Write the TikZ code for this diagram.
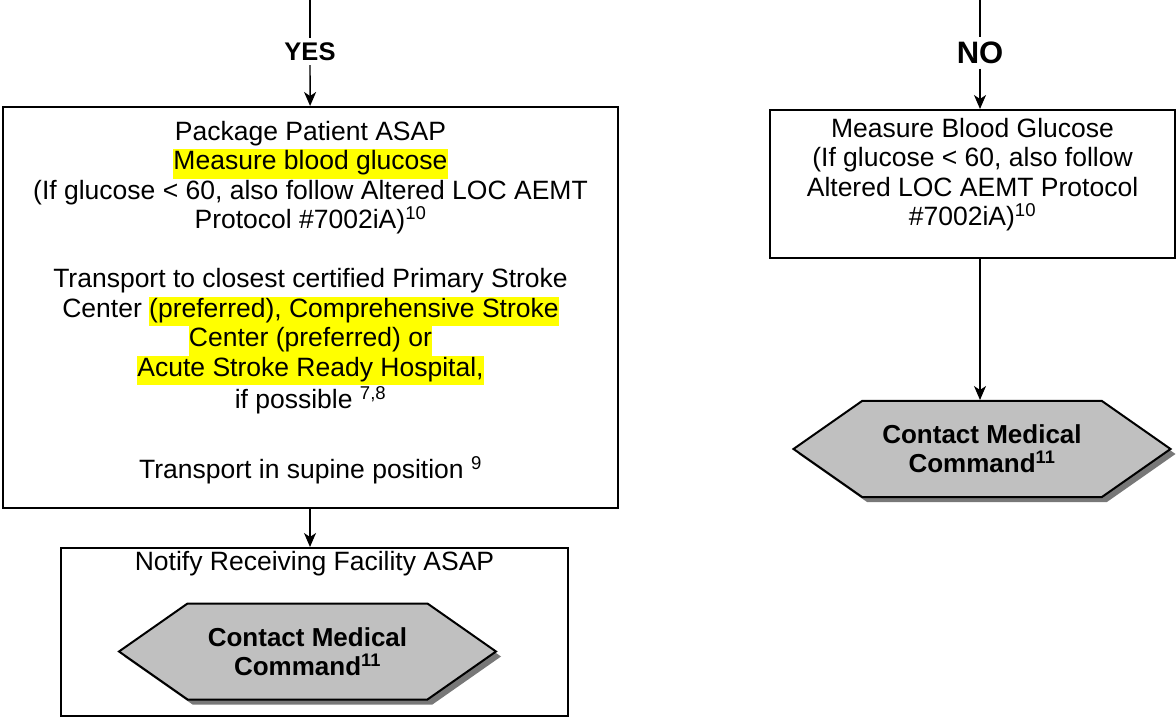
\documentclass[tikz,border=0pt]{standalone}
\usepackage{fontspec}
\setmainfont{Liberation Sans}
\usepackage{tikz}
\usetikzlibrary{arrows.meta,positioning,shapes.symbols,shadows}
\definecolor{col1}{RGB}{192,192,192}
\definecolor{col2}{RGB}{255,255,0}
\definecolor{col3}{RGB}{120,120,120}
\newcommand{\hlt}[1]{{\setlength{\fboxsep}{0pt}\colorbox{col2}{\strut #1}}}
\tikzstyle{proc}=[draw, line width=2pt, align=center, font=\fontsize{26.5pt}{29.5pt}\selectfont]
\tikzstyle{cmd}=[draw, line width=2pt, fill=col1, signal, signal to=east and west, signal pointer angle=70, minimum width=377pt, minimum height=96pt, align=center, font=\fontsize{26pt}{29pt}\selectfont\bfseries, drop shadow={shadow xshift=5pt, shadow yshift=-5pt, fill=col3, opacity=1}]
\tikzstyle{ans}=[inner sep=4pt]

\begin{document}
\begin{tikzpicture}[x=1pt,y=1pt,>={Stealth[length=14pt,width=12pt,inset=4pt]},line width=1.4pt]
		    \useasboundingbox (0,0) rectangle (1176,-719);
		    \coordinate (in1) at (310,0);
		    \coordinate (in2) at (980,0);
		    \node [ans, font=\fontsize{25.5pt}{28pt}\selectfont\bfseries] (yes) at (310,-51.5) {YES};
		    \node [ans, font=\fontsize{31pt}{34pt}\selectfont\bfseries] (no) at (980,-53) {NO};
		    \node [proc, minimum width=615pt, minimum height=401pt] (pkg) at (310.5,-307.5) {Package Patient ASAP\\\hlt{Measure blood glucose}\\(If glucose < 60, also follow Altered LOC AEMT\\Protocol \#7002iA)\textsuperscript{10}\\[29.5pt]Transport to closest certified Primary Stroke\\Center \hlt{(preferred), Comprehensive Stroke}\\\hlt{Center (preferred) or}\\\hlt{Acute Stroke Ready Hospital,}\\if possible \textsuperscript{7,8}\\[40.5pt]Transport in supine position \textsuperscript{9}\\[-14pt]\mbox{}};
		    \node [proc, minimum width=405pt, minimum height=148pt] (bg) at (972.5,-184) {Measure Blood Glucose\\(If glucose < 60, also follow\\Altered LOC AEMT Protocol\\\#7002iA)\textsuperscript{10}\\[-5pt]\mbox{}};
		    \node [proc, minimum width=507pt, minimum height=168pt] (notify) at (314.5,-632) {};
		    \node [font=\fontsize{26.5pt}{29.5pt}\selectfont] (notifytxt) [below=0pt of notify.north] {Notify Receiving Facility ASAP};
		    \node [cmd] (cmd1) at (307.5,-651.5) {Contact Medical\\Command\textsuperscript{11}};
		    \node [cmd] (cmd2) at (982,-449) {Contact Medical\\Command\textsuperscript{11}};
		    \path[->]
		    (in1) edge[-] (yes)
		    (yes) edge (pkg)
		    (pkg.south -| yes) edge (notify.north -| yes)
		    (in2) edge[-] (no)
		    (no) edge (no |- bg.north)
		    (no |- bg.south) edge (no |- cmd2.north);
		\end{tikzpicture}
\end{document}
